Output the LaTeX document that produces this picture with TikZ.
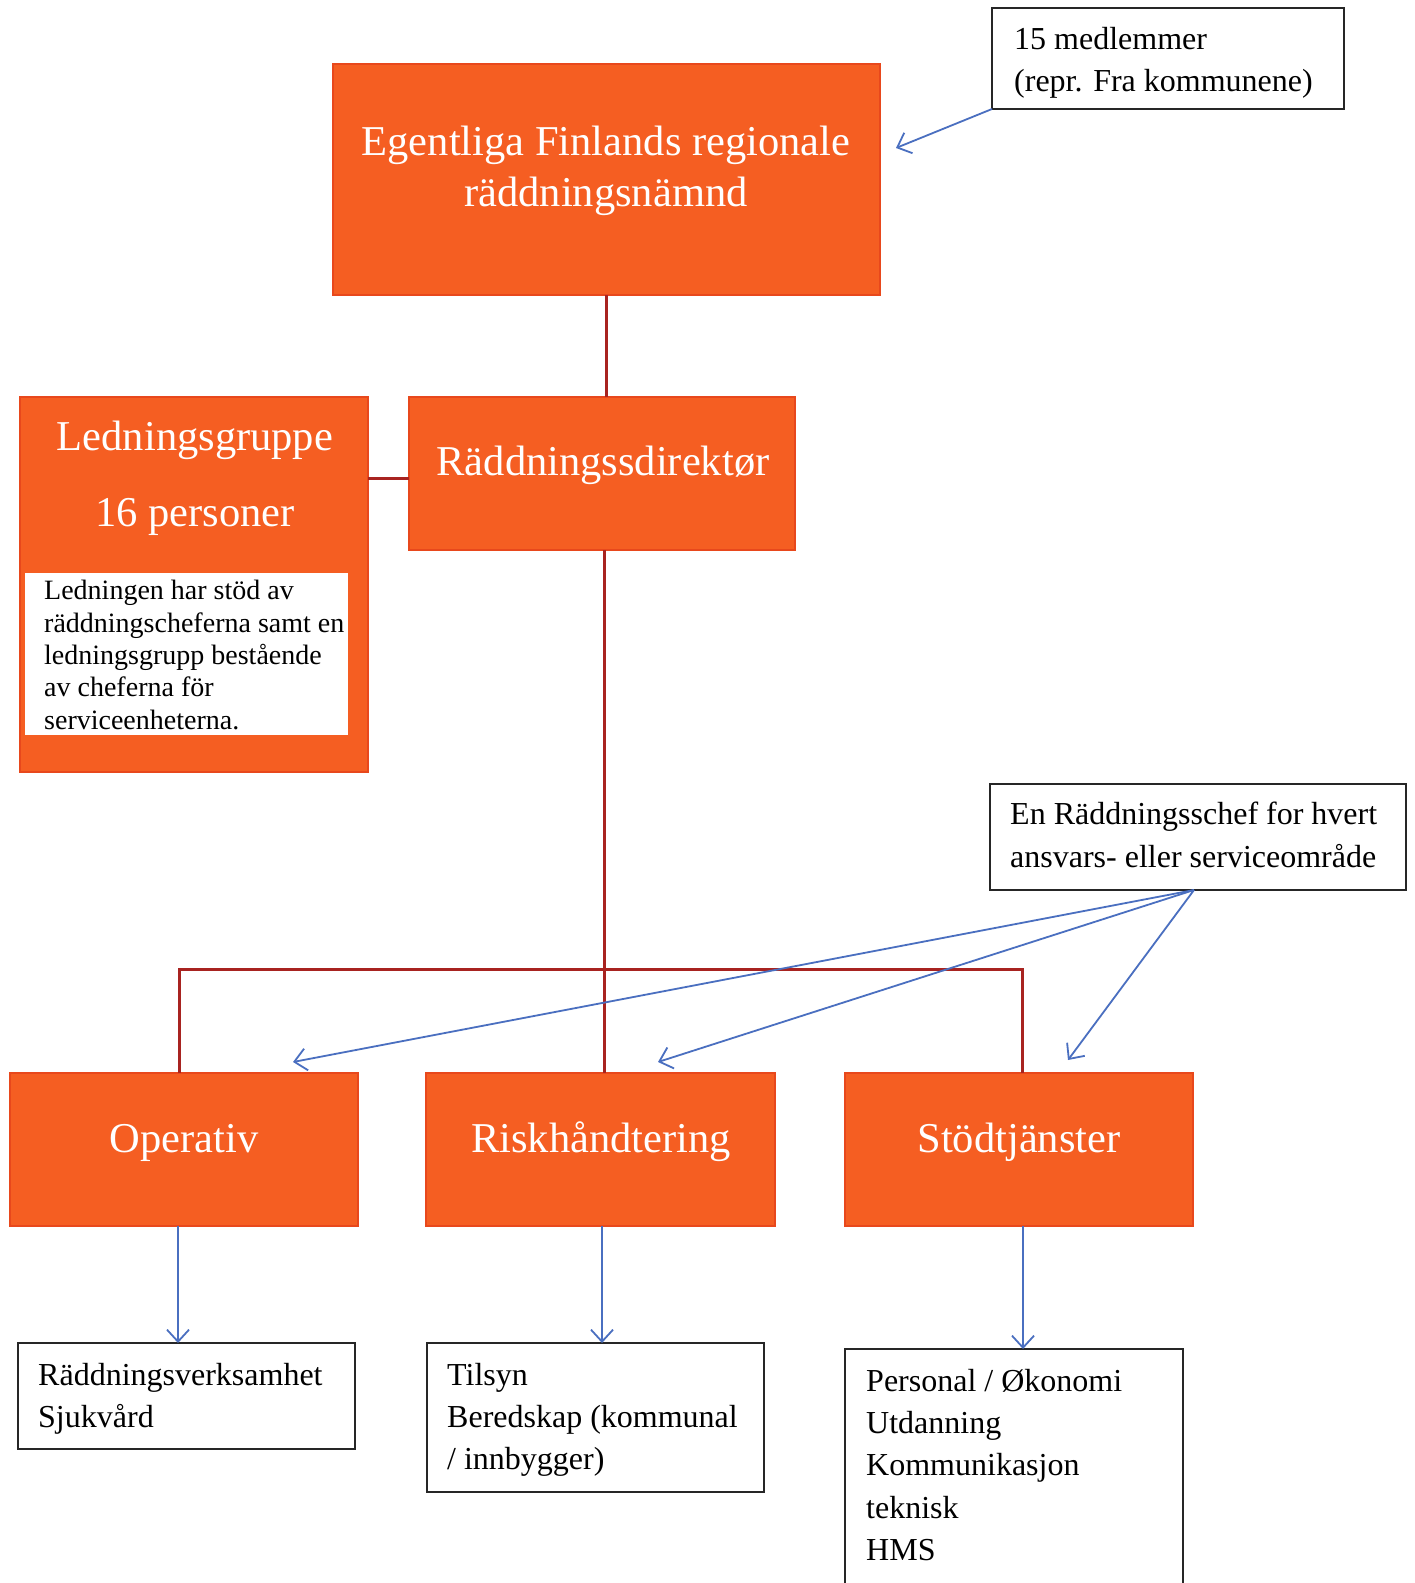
\documentclass[tikz,border=0pt]{standalone}
\usepackage{fontspec}
\setmainfont{Liberation Serif}
\usetikzlibrary{arrows.meta}
\definecolor{boxorange}{HTML}{F55E22}
\definecolor{boxedge}{HTML}{E8481C}
\definecolor{linkred}{HTML}{A82320}
\definecolor{arrowblue}{HTML}{4A6FC0}
\tikzset{
  orangebox/.style={draw=boxedge, line width=2pt, fill=boxorange, text=white, inner sep=0pt},
  whitebox/.style={draw=black!85, line width=2pt, fill=white, inner sep=0pt},
  treelink/.style={draw=linkred, line width=3pt},
  bluearrow/.style={draw=arrowblue, line width=1.8pt, -{Straight Barb[length=12pt,width=22pt,line width=1.8pt]}},
  bigtext/.style={font=\fontsize{42.5}{51}\selectfont, text=white},
  smalltext/.style={font=\fontsize{32}{42}\selectfont, anchor=base west, inner sep=0pt},
  tinytext/.style={font=\fontsize{28}{32}\selectfont, anchor=base west, inner sep=0pt},
}
\begin{document}
\begin{tikzpicture}[x=1pt,y=-1pt]
\useasboundingbox[fill=white] (0,0) rectangle (1415,1583);

% top box
\node[orangebox, minimum width=547pt, minimum height=231pt] (top) at (606.5,179.5) {};
\node[bigtext, align=center, font=\fontsize{42.5}{50.5}\selectfont] (toptxt) at (606,171) {Egentliga Finlands regionale\\räddningsnämnd};

% 15 medlemmer
\node[whitebox, minimum width=352pt, minimum height=101pt] (medl) at (1168,58.5) {};
\node[smalltext] (medlA) at (1014,49) {15 medlemmer};
\node[smalltext] (medlB) at (1014,91) {(repr. Fra kommunene)};
\coordinate (medlfoot) at (992,109);
\coordinate (topin) at (896,148);

% direktør
\node[orangebox, minimum width=386pt, minimum height=153pt] (dir) at (602,473.5) {};
\node[bigtext] (dirtxt) at (603,465) {Räddningssdirektør};

% Ledningsgruppe
\node[orangebox, minimum width=348pt, minimum height=375pt] (led) at (194,584.5) {};
\node[bigtext] (ledA) at (195,440) {Ledningsgruppe};
\node[bigtext] (ledB) at (195,517) {16 personer};
\node[fill=white, minimum width=323pt, minimum height=162pt, inner sep=0pt] (ledwhite) at (186.5,654) {};
\node[tinytext] (ledL1) at (44,599) {Ledningen har stöd av};
\node[tinytext] (ledL2) at (44,632) {räddningscheferna samt en};
\node[tinytext] (ledL3) at (44,664) {ledningsgrupp bestående};
\node[tinytext] (ledL4) at (44,696) {av cheferna för};
\node[tinytext] (ledL5) at (44,729) {serviceenheterna.};

% level-2 boxes
\node[orangebox, minimum width=348pt, minimum height=153pt] (op) at (184,1149.5) {};
\node[bigtext] (optxt) at (184,1143) {Operativ};
\node[orangebox, minimum width=349pt, minimum height=153pt] (risk) at (600.5,1149.5) {};
\node[bigtext] (risktxt) at (601,1142) {Riskhåndtering};
\node[orangebox, minimum width=348pt, minimum height=153pt] (stod) at (1019,1149.5) {};
\node[bigtext] (stodtxt) at (1019,1142) {Stödtjänster};

% chef box
\node[whitebox, minimum width=416pt, minimum height=106pt] (chef) at (1198,837) {};
\node[smalltext] (chefA) at (1010,824) {En Räddningsschef for hvert};
\node[smalltext] (chefB) at (1010,867) {ansvars- eller serviceområde};
\coordinate (cheffoot) at (1194,890);

% bottom boxes
\node[whitebox, minimum width=337pt, minimum height=106pt] (rv) at (186.5,1396) {};
\node[smalltext] (rvA) at (38,1385) {Räddningsverksamhet};
\node[smalltext] (rvB) at (38,1427) {Sjukvård};
\node[whitebox, minimum width=337pt, minimum height=149pt] (til) at (595.5,1417.5) {};
\node[smalltext] (tilA) at (447,1385) {Tilsyn};
\node[smalltext] (tilB) at (447,1427) {Beredskap (kommunal};
\node[smalltext] (tilC) at (447,1469) {/ innbygger)};
\draw[draw=black!85, line width=2pt, fill=white] (845,1600) -- (845,1349) -- (1183,1349) -- (1183,1600);
\coordinate (pers) at (1023,1349);
\node[smalltext] (persA) at (866,1391) {Personal / Økonomi};
\node[smalltext] (persB) at (866,1433) {Utdanning};
\node[smalltext] (persC) at (866,1475) {Kommunikasjon};
\node[smalltext] (persD) at (866,1518) {teknisk};
\node[smalltext] (persE) at (866,1560) {HMS};

% tree links
\draw[treelink] (606,295) -- (606,397);
\draw[treelink] (368,478) -- (409,478);
\coordinate (busL) at (179,969);
\coordinate (busR) at (1022,969);
\draw[treelink] (604.5,550) -- (604.5,1073);
\draw[treelink] (179,1073) -- (busL) -- (busR) -- (1022,1073);

% blue arrows
\draw[bluearrow] (medlfoot) -- (topin);
\draw[bluearrow] (cheffoot) -- (293,1062);
\draw[bluearrow] (cheffoot) -- (658,1062);
\draw[bluearrow] (cheffoot) -- (1068,1060);
\draw[bluearrow] (178,1226) -- (178,1343);
\draw[bluearrow] (602,1226) -- (602,1343);
\draw[bluearrow] (1023,1226) -- (pers);
\end{tikzpicture}
\end{document}
